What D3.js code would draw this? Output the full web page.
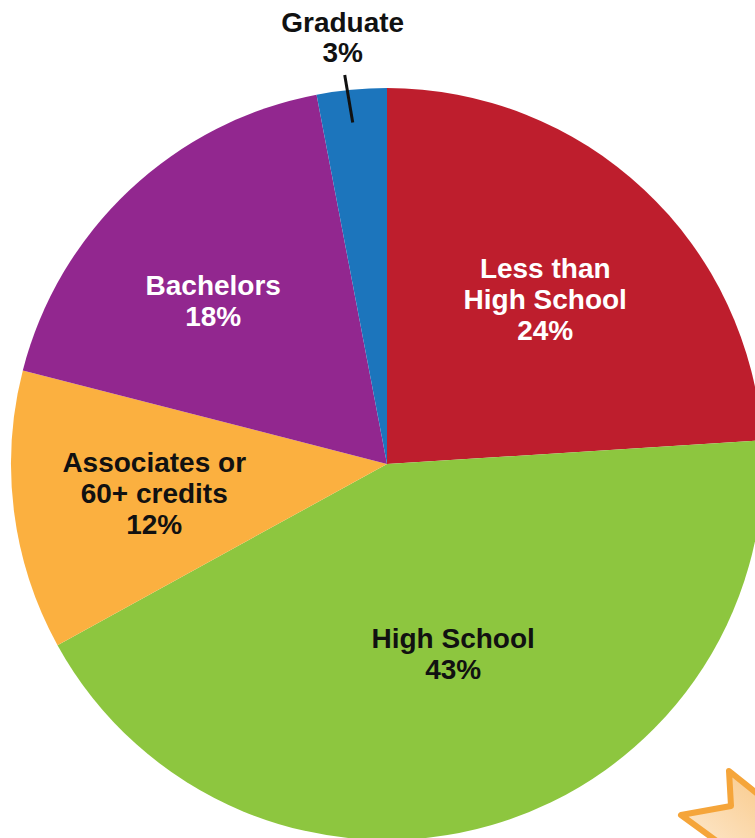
<!DOCTYPE html>
<html>
<head>
<meta charset="utf-8">
<script src="https://cdn.jsdelivr.net/npm/d3@7"></script>
<style>
  html, body { margin: 0; padding: 0; background: #ffffff; }
  svg { display: block; }
  text { font-family: "Liberation Sans", Arial, sans-serif; font-weight: bold; font-size: 28px; }
</style>
</head>
<body>
<svg id="chart" width="755" height="838"></svg>
<script>
// Education level breakdown (percent)
const categories = ["Less than High School", "High School", "Associates or 60+ credits", "Bachelors", "Graduate"];
const values = [24, 43, 12, 18, 3];
const labelLines = [
  ["Less than", "High School", "24%"],
  ["High School", "43%"],
  ["Associates or", "60+ credits", "12%"],
  ["Bachelors", "18%"],
  ["Graduate", "3%"]
];
const colors = ["#BE1E2D", "#8DC63F", "#FBB040", "#92278F", "#1C75BC"];
const textColors = ["#ffffff", "#111111", "#111111", "#ffffff", "#111111"];

const width = 755, height = 838;
const cx = 387, cy = 464, radius = 376;

const svg = d3.select("#chart");

// Decorative star in the lower-right corner
const defs = svg.append("defs");
const grad = defs.append("linearGradient").attr("id", "starFill")
  .attr("x1", "1").attr("y1", "0").attr("x2", "0").attr("y2", "1");
grad.append("stop").attr("offset", "0").attr("stop-color", "#F8C27A");
grad.append("stop").attr("offset", "1").attr("stop-color", "#FEF1E0");
svg.append("path")
  .attr("d", "M729,771 L800,828 L770,880 L681,815 L731,806 Z")
  .attr("fill", "url(#starFill)")
  .attr("stroke", "#F5A53A")
  .attr("stroke-width", 6)
  .attr("stroke-linejoin", "round");

const pie = d3.pie().value(d => d.value).sort(null);
const data = categories.map((c, i) => ({ name: c, value: values[i], lines: labelLines[i], color: colors[i], tc: textColors[i] }));
const arcs = pie(data);
const arc = d3.arc().innerRadius(0).outerRadius(radius);

const g = svg.append("g").attr("transform", `translate(${cx},${cy})`);
g.selectAll("path.slice")
  .data(arcs)
  .join("path")
  .attr("class", "slice")
  .attr("d", arc)
  .attr("fill", d => d.data.color);

// Label placement inside slices: radius fraction and angular nudge (degrees)
const labelRadius = [0.608, 0.535, 0.624, 0.634, null];
const labelNudge = [0.6, -3.0, 0, -3.6, 0];
const lineH = 31;

arcs.forEach((d, i) => {
  const lines = d.data.lines;
  const t = svg.append("text")
    .attr("text-anchor", "middle")
    .attr("fill", d.data.tc);
  if (labelRadius[i] !== null) {
    const a = (d.startAngle + d.endAngle) / 2 + labelNudge[i] * Math.PI / 180;
    const r = radius * labelRadius[i];
    const x = cx + r * Math.sin(a);
    const yc = cy - r * Math.cos(a);
    const y0 = yc - (lines.length - 1) * lineH / 2 + 10;
    lines.forEach((ln, k) => {
      t.append("tspan").attr("x", x).attr("y", y0 + k * lineH).text(ln);
    });
  } else {
    // small slice: label above the pie with a leader line into the slice
    const a = (d.startAngle + d.endAngle) / 2;
    const tip = [cx + (radius - 33) * Math.sin(a), cy - (radius - 33) * Math.cos(a)];
    const x = tip[0] - 12;
    svg.append("line")
      .attr("x1", tip[0] - 10).attr("y1", 75)
      .attr("x2", tip[0] - 2).attr("y2", tip[1])
      .attr("stroke", "#111").attr("stroke-width", 3);
    lines.forEach((ln, k) => {
      t.append("tspan").attr("x", x).attr("y", 32 + k * 30).text(ln);
    });
  }
});
</script>
</body>
</html>
